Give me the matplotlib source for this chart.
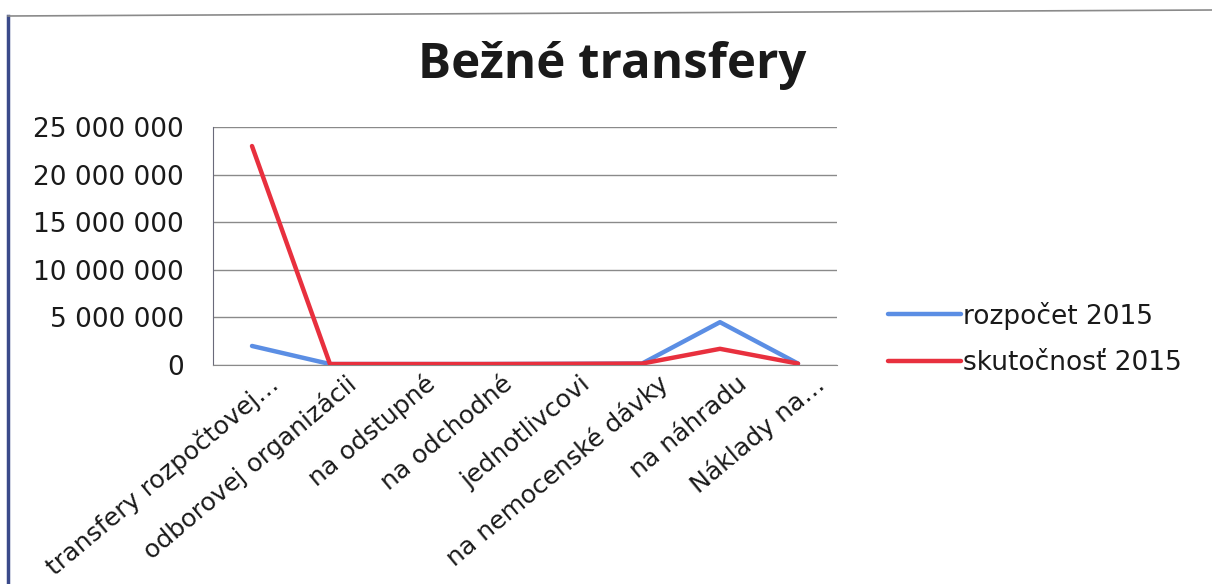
import matplotlib
matplotlib.use("Agg")
import matplotlib.pyplot as plt
from matplotlib.ticker import FuncFormatter
from matplotlib.lines import Line2D
import matplotlib.transforms as mtransforms

plt.rcParams['font.family'] = ['DejaVu Sans']

title = "Bežné transfery"
categories = [
    "transfery rozpočtovej…",
    "odborovej organizácii",
    "na odstupné",
    "na odchodné",
    "jednotlivcovi",
    "na nemocenské dávky",
    "na náhradu",
    "Náklady na…",
]
series_names = ["rozpočet 2015", "skutočnosť 2015"]
rozpocet = [2000000, 100000, 100000, 100000, 120000, 150000, 4500000, 150000]
skutocnost = [23000000, 100000, 100000, 100000, 120000, 150000, 1700000, 150000]
y_ticks = [0, 5000000, 10000000, 15000000, 20000000, 25000000]

W, H = 1212, 584
fig = plt.figure(figsize=(W / 100, H / 100), dpi=100)
fig.patch.set_facecolor('white')

ax = fig.add_axes([213 / W, 1 - 365 / H, (837 - 213) / W, (365 - 127) / H])
x = list(range(len(categories)))
ax.plot(x, rozpocet, color='#5b8ee4', lw=3.2, solid_capstyle='round', label=series_names[0], zorder=3)
ax.plot(x, skutocnost, color='#e8303e', lw=3.2, solid_capstyle='round', label=series_names[1], zorder=4)

ax.set_xlim(-0.5, len(categories) - 0.5)
ax.set_ylim(y_ticks[0], y_ticks[-1])
ax.set_yticks(y_ticks)
ax.yaxis.set_major_formatter(FuncFormatter(lambda v, p: f"{int(v):,}".replace(",", " ")))
ax.grid(axis='y', color='#8a8a8a', lw=1.0)
ax.set_axisbelow(True)
for s in ['top', 'right']:
    ax.spines[s].set_visible(False)
ax.spines['left'].set_color('#6a6a7a')
ax.spines['bottom'].set_color('#8a8a8a')
ax.tick_params(axis='y', length=0, labelsize=19, colors='#1a1a1a', pad=21)
ax.tick_params(axis='x', length=0, labelsize=18.2, colors='#1a1a1a')

ax.set_xticks(x)
ax.set_xticklabels(categories, rotation=40, ha='right', va='center_baseline',
                   rotation_mode='anchor')
offset = mtransforms.ScaledTranslation(22 / 100, -9 / 100, fig.dpi_scale_trans)
for lbl in ax.get_xticklabels():
    lbl.set_transform(lbl.get_transform() + offset)

fig.text(612 / W, 1 - 66 / H, title, ha='center', va='center', fontsize=35.5,
         fontweight='bold', color='#1a1a1a', family=['Open Sans', 'DejaVu Sans'])

leg = ax.legend(loc='center left', bbox_to_anchor=(888 / W, 1 - 339 / H),
                bbox_transform=fig.transFigure, frameon=False, fontsize=19,
                handlelength=2.75, handletextpad=0.08, labelspacing=0.78,
                borderpad=0, borderaxespad=0)
for t in leg.get_texts():
    t.set_color('#1a1a1a')

# scanned page frame
fig.add_artist(Line2D([8 / W, 8 / W], [1 - 16 / H, 0], transform=fig.transFigure,
                      color='#3a4a8a', lw=2.5))
fig.add_artist(Line2D([8 / W, 1], [1 - 16 / H, 1 - 10 / H], transform=fig.transFigure,
                      color='#8a8a8a', lw=1.2))

fig.savefig("out.png", dpi=100, facecolor='white')
